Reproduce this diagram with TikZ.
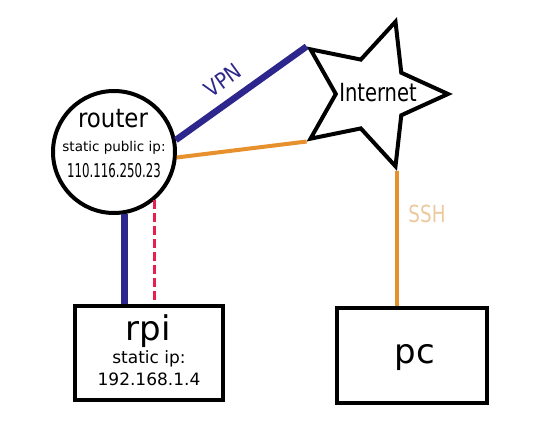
\documentclass[tikz,border=0pt]{standalone}
\usepackage{fontspec}
\setmainfont{DejaVu Sans}
\newfontfamily\routerfont[FakeStretch=0.88]{DejaVu Sans}
\newfontfamily\ipfont[FakeStretch=0.62]{DejaVu Sans}
\newfontfamily\netfont[FakeStretch=0.78]{DejaVu Sans}
\usepackage{tikz}
\usetikzlibrary{shapes.geometric}
\definecolor{vpnblue}{RGB}{45,38,140}
\definecolor{sshorange}{RGB}{230,145,45}
\definecolor{lanred}{RGB}{232,30,80}
\definecolor{sshtan}{RGB}{236,202,160}

\begin{document}
\begin{tikzpicture}[x=1pt,y=-1pt]
      \tikzset{
        device/.style={draw, rectangle, line width=4.5pt, inner sep=0pt},
        vpnline/.style={draw=vpnblue, line width=6.5pt},
        sshline/.style={draw=sshorange, line width=4pt}
      }
      \useasboundingbox (0,0) rectangle (540,436);
      \node (router) at (114,152) [draw, circle, line width=4pt, minimum size=122pt, inner sep=0pt] {};
      \node (internet) at (372,94) [draw, star, star points=5, star point ratio=2.1, shape border rotate=-18, line width=4pt, minimum size=152pt, inner sep=0pt] {};
      \node (rpi) at (149,353) [device, minimum width=148pt, minimum height=94pt] {};
      \node (pc) at (412,355.5) [device, minimum width=150pt, minimum height=95pt] {};
      \draw[vpnline] (router.11) to (internet.144);
      \draw[sshline] (router.-5) to (internet.216);
      \draw[sshline] (internet.288) to (internet.288 |- pc.north);
      \draw[draw=vpnblue, line width=7pt] (router.-80) to (router.-80 |- rpi.north);
      \draw[draw=lanred, line width=2.5pt, dash pattern=on 9pt off 4pt] (router.-50) to (router.-50 |- rpi.north);
      \node (routername) at (113,127) [anchor=base] {\routerfont\fontsize{26}{30}\selectfont router};
      \node (routerip) at (114,151) [anchor=base] {\fontsize{13.5}{16}\selectfont static public ip:};
      \node (routeraddr) at (114,177) [anchor=base] {\ipfont\fontsize{19}{22}\selectfont 110.116.250.23};
      \node (netname) at (378,101) [anchor=base] {\netfont\fontsize{25}{30}\selectfont Internet};
      \node (rpiname) at (148,340) [anchor=base] {\fontsize{34}{40}\selectfont rpi};
      \node (rpiip) at (149,363) [anchor=base] {\fontsize{17}{20}\selectfont static ip:};
      \node (rpiaddr) at (149,385) [anchor=base] {\fontsize{17}{20}\selectfont 192.168.1.4};
      \node (pcname) at (415,363) [anchor=base] {\fontsize{34}{40}\selectfont pc};
      \node (vpnlabel) at (223,80) [rotate=36, text=vpnblue, inner sep=0pt] {\routerfont\fontsize{22}{26}\selectfont VPN};
      \node (sshlabel) at (427,214) [text=sshtan] {\netfont\fontsize{23.5}{28}\selectfont SSH};
\end{tikzpicture}
\end{document}
